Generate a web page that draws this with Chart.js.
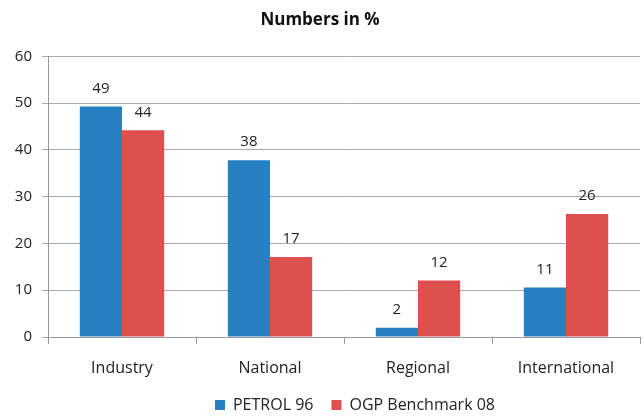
<!DOCTYPE html>
<html>
    <head>
        <meta charset="UTF-8" />
        <title>Numbers in %</title>
        <style type="text/css">
            html, body { margin: 0; padding: 0; background: #fff; }
            .chartBox { width: 643px; height: 417px; }
        </style>
    </head>
    <body>
        <div class="chartBox">
            <canvas id="myChart"></canvas>
        </div>

        <script src="https://cdn.jsdelivr.net/npm/chart.js"></script>
        <script>
            // data
            const categories = ['Industry', 'National', 'Regional', 'International'];
            const petrolData = [49.3, 37.8, 2.0, 10.6];
            const ogpData = [44.2, 17.1, 12.1, 26.3];
            const yTicks = [0, 10, 20, 30, 40, 50, 60];

            const fontFamily = "'Open Sans', 'Noto Sans', sans-serif";

            // values above bars
            const barLabels = {
                id: 'barLabels',
                afterDatasetsDraw(chart) {
                    const ctx = chart.ctx;
                    ctx.save();
                    ctx.font = '15px ' + fontFamily;
                    ctx.fillStyle = '#222';
                    ctx.textAlign = 'center';
                    ctx.textBaseline = 'middle';
                    chart.data.datasets.forEach((ds, i) => {
                        chart.getDatasetMeta(i).data.forEach((bar, j) => {
                            ctx.fillText(Math.round(ds.data[j]), bar.x, bar.y - 18);
                        });
                    });
                    ctx.restore();
                }
            };

            // fixed legend height and a small shift to the right
            const legendFix = {
                id: 'legendFix',
                afterInit(chart) {
                    const legend = chart.legend;
                    const fit = legend.fit;
                    legend.fit = function() {
                        fit.call(this);
                        this.height = 38;
                    };
                },
                afterLayout(chart) {
                    chart.legend.left += 11;
                    chart.legend.right += 11;
                }
            };

            const data = {
                labels: categories,
                datasets: [{
                    label: 'PETROL 96',
                    data: petrolData,
                    backgroundColor: 'rgb(38, 128, 194)',
                    borderWidth: 0
                }, {
                    label: 'OGP Benchmark 08',
                    data: ogpData,
                    backgroundColor: 'rgb(222, 80, 78)',
                    borderWidth: 0
                }]
            };

            const config = {
                type: 'bar',
                data,
                options: {
                    responsive: true,
                    maintainAspectRatio: false,
                    animation: false,
                    datasets: {
                        bar: { categoryPercentage: 0.57, barPercentage: 1.0 }
                    },
                    layout: { padding: { left: 0, right: 3, top: 8, bottom: 0 } },
                    plugins: {
                        title: {
                            display: true,
                            text: 'Numbers in %',
                            color: '#111',
                            font: { family: fontFamily, size: 17, weight: 'bold' },
                            padding: { top: 2, bottom: 26 }
                        },
                        legend: {
                            position: 'bottom',
                            fullSize: false,
                            labels: {
                                color: '#222',
                                font: { family: fontFamily, size: 16 },
                                boxWidth: 10,
                                boxHeight: 10,
                                padding: 18
                            }
                        },
                        tooltip: { enabled: false }
                    },
                    scales: {
                        x: {
                            grid: {
                                drawOnChartArea: false,
                                color: '#999',
                                tickLength: 7
                            },
                            border: { color: '#999' },
                            ticks: {
                                color: '#222',
                                font: { family: fontFamily, size: 16 },
                                padding: 15
                            },
                            afterFit(scale) { scale.height = 42; }
                        },
                        y: {
                            min: 0,
                            max: 60,
                            afterBuildTicks(scale) {
                                scale.ticks = yTicks.map(v => ({ value: v }));
                            },
                            grid: {
                                color: '#aaa',
                                tickLength: 6
                            },
                            border: { color: '#999' },
                            ticks: {
                                color: '#222',
                                font: { family: fontFamily, size: 15 },
                                padding: 10
                            },
                            afterFit(scale) { scale.width = 48; }
                        }
                    }
                },
                plugins: [barLabels, legendFix]
            };

            const myChart = new Chart(document.getElementById('myChart'), config);
        </script>
    </body>
</html>
